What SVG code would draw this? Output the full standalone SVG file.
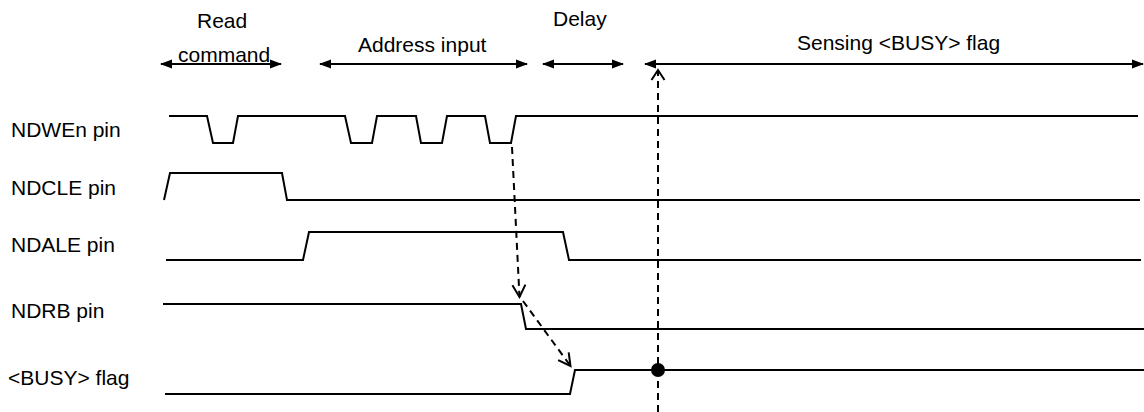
<svg xmlns="http://www.w3.org/2000/svg" width="1144" height="412" viewBox="0 0 1144 412">
<defs>
<style>
.t{font-family:"Liberation Sans",Arial,sans-serif;font-size:21px;fill:#000}
.w{fill:none;stroke:#000;stroke-width:2;stroke-linejoin:miter}
.a{fill:none;stroke:#000;stroke-width:2}
.d{fill:none;stroke:#000;stroke-width:2;stroke-dasharray:7,5}
</style>
<marker id="solid" viewBox="0 0 12 10" refX="11" refY="5" markerWidth="12" markerHeight="10" markerUnits="userSpaceOnUse" orient="auto-start-reverse">
<path d="M0,0.5 L12,5 L0,9.5 Z" fill="#000"/>
</marker>
<marker id="open" viewBox="-14 -8 16 16" refX="0" refY="0" markerWidth="16" markerHeight="16" markerUnits="userSpaceOnUse" orient="auto">
<path d="M-12,-6.5 L0,0 L-12,6.5" fill="none" stroke="#000" stroke-width="2"/>
</marker>
</defs>
<rect width="1144" height="412" fill="#fff"/>
<g id="phases">
<text class="t" x="197" y="28">Read</text>
<text class="t" x="178" y="62">command</text>
<text class="t" x="358" y="52">Address input</text>
<text class="t" x="553" y="26">Delay</text>
<text class="t" x="797" y="50">Sensing &lt;BUSY&gt; flag</text>
<line class="a" x1="161" y1="64" x2="281" y2="64" marker-start="url(#solid)" marker-end="url(#solid)"/>
<line class="a" x1="320" y1="64" x2="527" y2="64" marker-start="url(#solid)" marker-end="url(#solid)"/>
<line class="a" x1="543" y1="64" x2="623" y2="64" marker-start="url(#solid)" marker-end="url(#solid)"/>
<line class="a" x1="645" y1="64" x2="1143" y2="64" marker-start="url(#solid)" marker-end="url(#solid)"/>
</g>
<g id="ndwen">
<text class="t" x="11" y="137">NDWEn pin</text>
<polyline class="w" points="169,116 207,116 213,143 233,143 238,116 345,116 351,143 372,143 377,116 416,116 421,143 442,143 447,116 485,116 490,143 511,143 516,116 1138,116"/>
</g>
<g id="ndcle">
<text class="t" x="11" y="195">NDCLE pin</text>
<polyline class="w" points="164,200 170,173 282,173 287,200 1140,200"/>
</g>
<g id="ndale">
<text class="t" x="11" y="252">NDALE pin</text>
<polyline class="w" points="166,260 303,260 309,232 563,232 569,260 1141,260"/>
</g>
<g id="ndrb">
<text class="t" x="11" y="318">NDRB pin</text>
<polyline class="w" points="163,304 521,304 526,329 1144,329"/>
</g>
<g id="busy">
<text class="t" x="8" y="385">&lt;BUSY&gt; flag</text>
<polyline class="w" points="165,394 570,394 575,370 1144,370"/>
<circle cx="658" cy="370" r="7" fill="#000"/>
</g>
<g id="connectors">
<line class="d" x1="658" y1="412" x2="658" y2="71"/>
<path d="M651.5,80 L658,70 L664.5,80" fill="none" stroke="#000" stroke-width="2"/>
<line class="d" x1="512" y1="147" x2="519.5" y2="297" marker-end="url(#open)"/>
<line class="d" x1="523" y1="301" x2="570.5" y2="366" marker-end="url(#open)"/>
</g>
</svg>
